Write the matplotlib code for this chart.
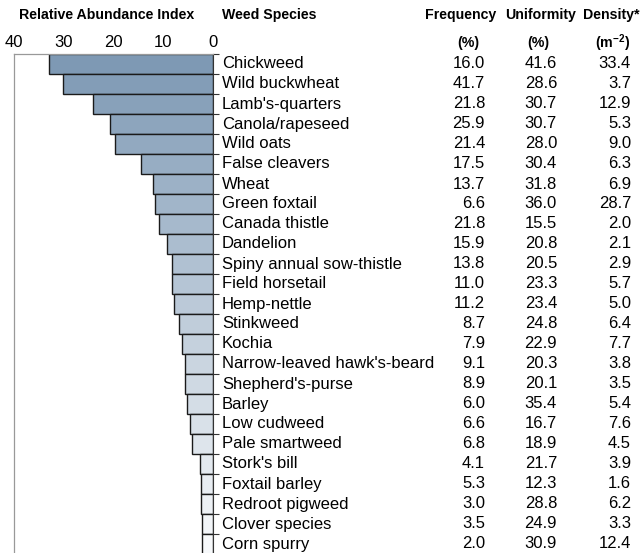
import numpy as np
import matplotlib
matplotlib.use("Agg")
import matplotlib.pyplot as plt

plt.rcParams['font.family'] = ['Liberation Sans', 'DejaVu Sans']
plt.rcParams['mathtext.fontset'] = 'custom'
plt.rcParams['mathtext.rm'] = 'Liberation Sans'
plt.rcParams['mathtext.bf'] = 'Liberation Sans:bold'

species = ["Chickweed", "Wild buckwheat", "Lamb's-quarters", "Canola/rapeseed",
           "Wild oats", "False cleavers", "Wheat", "Green foxtail", "Canada thistle",
           "Dandelion", "Spiny annual sow-thistle", "Field horsetail", "Hemp-nettle",
           "Stinkweed", "Kochia", "Narrow-leaved hawk's-beard", "Shepherd's-purse",
           "Barley", "Low cudweed", "Pale smartweed", "Stork's bill", "Foxtail barley",
           "Redroot pigweed", "Clover species", "Corn spurry"]
abundance = [32.9, 30.1, 24.2, 20.8, 19.7, 14.5, 12.1, 11.7, 10.9, 9.3, 8.2, 8.3,
             7.9, 6.9, 6.3, 5.7, 5.6, 5.2, 4.7, 4.2, 2.6, 2.5, 2.4, 2.3, 2.2]
frequency = [16.0, 41.7, 21.8, 25.9, 21.4, 17.5, 13.7, 6.6, 21.8, 15.9, 13.8, 11.0,
             11.2, 8.7, 7.9, 9.1, 8.9, 6.0, 6.6, 6.8, 4.1, 5.3, 3.0, 3.5, 2.0]
uniformity = [41.6, 28.6, 30.7, 30.7, 28.0, 30.4, 31.8, 36.0, 15.5, 20.8, 20.5, 23.3,
              23.4, 24.8, 22.9, 20.3, 20.1, 35.4, 16.7, 18.9, 21.7, 12.3, 28.8, 24.9, 30.9]
density = [33.4, 3.7, 12.9, 5.3, 9.0, 6.3, 6.9, 28.7, 2.0, 2.1, 2.9, 5.7, 5.0, 6.4,
           7.7, 3.8, 3.5, 5.4, 7.6, 4.5, 3.9, 1.6, 6.2, 3.3, 12.4]
xticks = [40, 30, 20, 10, 0]

W, H = 640, 553
fig = plt.figure(figsize=(W / 100, H / 100), dpi=100)

# axes in pixel coords: left 14, right 213, top 54, row height 20
n = len(species)
top, rowh = 54, 20
ax = fig.add_axes([14 / W, 1 - (top + n * rowh) / H, 199 / W, n * rowh / H])

c0 = np.array([126, 153, 180]) / 255
c1 = np.array([247, 249, 251]) / 255
cols = [c0 + (c1 - c0) * i / (n - 1) for i in range(n)]
y = np.arange(n)
ax.barh(y, abundance, height=1.0, color=cols, edgecolor='#1a1a1a', linewidth=1.0)

ax.set_xlim(40, 0)
ax.set_ylim(n - 0.5, -0.5)
ax.xaxis.tick_top()
ax.set_xticks(xticks)
ax.tick_params(axis='x', length=0, pad=3, labelsize=12)
ax.set_yticks([])
ax.set_yticks(np.arange(n) - 0.5, minor=True)
ax.yaxis.tick_right()
ax.tick_params(axis='y', which='minor', length=4, width=0.8, color='#333333', direction='out')
for s in ['left', 'top']:
    ax.spines[s].set_color('#999999')
    ax.spines[s].set_linewidth(0.9)
ax.spines['bottom'].set_visible(False)
ax.spines['right'].set_color('#333333')

def px(x, yy):
    return x / W, 1 - yy / H

fs = 12
hb = dict(fontsize=10.2, fontweight='bold', va='center')
fig.text(*px(107, 15), "Relative Abundance Index", ha='center', **hb)
fig.text(*px(222, 15), "Weed Species", ha='left', **hb)
fig.text(*px(461, 15), "Frequency", ha='center', **hb)
fig.text(*px(541, 15), "Uniformity", ha='center', **hb)
fig.text(*px(583, 15), "Density*", ha='left', **hb)
fig.text(*px(468, 43), "(%)", ha='center', **hb)
fig.text(*px(538, 43), "(%)", ha='center', **hb)
fig.text(*px(613, 43), r"(m$\mathbf{^{-2}}$)", ha='center', **hb)

for i in range(n):
    yc = top + rowh * (i + 0.5)
    fig.text(*px(222, yc), species[i], ha='left', va='center', fontsize=fs)
    fig.text(*px(485, yc), f"{frequency[i]:.1f}", ha='right', va='center', fontsize=fs)
    fig.text(*px(557, yc), f"{uniformity[i]:.1f}", ha='right', va='center', fontsize=fs)
    fig.text(*px(631, yc), f"{density[i]:.1f}", ha='right', va='center', fontsize=fs)

fig.savefig("out.png", dpi=100)
